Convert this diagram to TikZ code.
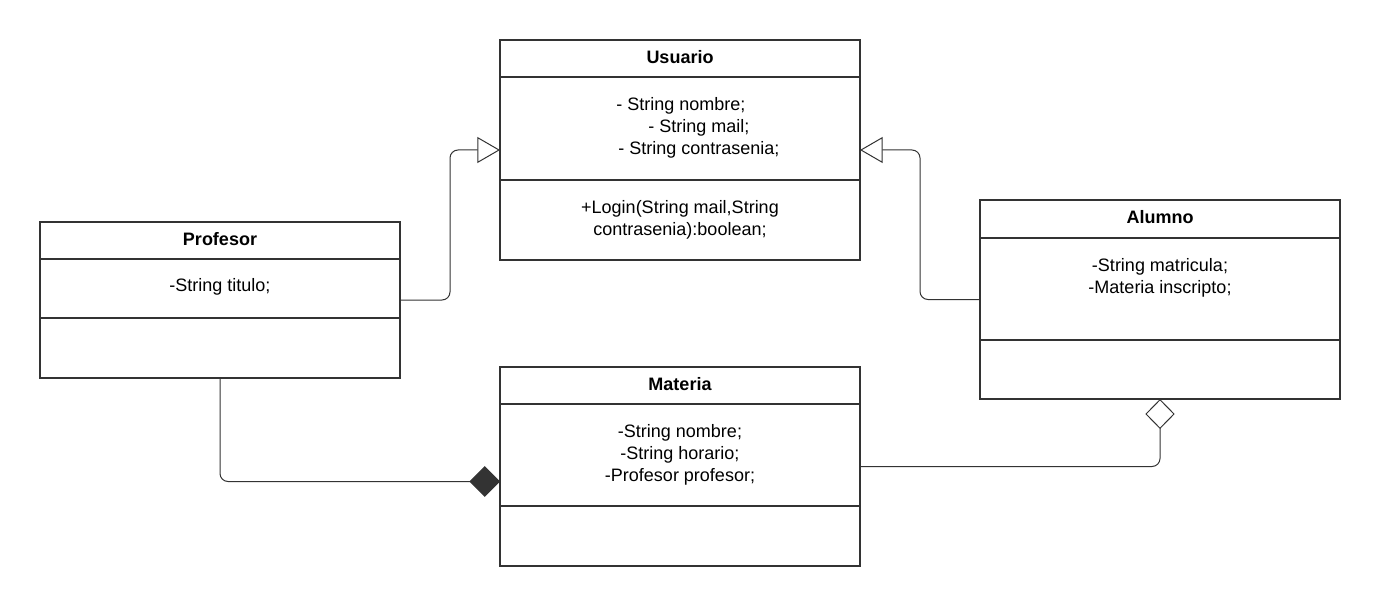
\documentclass[tikz,border=0pt]{standalone}
\usepackage{fontspec}
\setmainfont{Liberation Sans}
\usetikzlibrary{positioning,arrows.meta}
\definecolor{umlline}{HTML}{333333}
\tikzset{
    classbox/.style ={
        shape=rectangle,
        draw=umlline,
        line width=1.1pt,
        minimum width=270pt,
        outer sep=0pt,
        inner sep=0pt
    },
    headbox/.style ={
        classbox,
        minimum height=27.75pt,
        text depth=3pt,
        font=\fontsize{13.5pt}{16.5pt}\selectfont\bfseries
    },
    partbox/.style ={
        classbox
    },
    txt/.style ={
        align=center,
        inner sep=0pt,
        font=\fontsize{13.5pt}{16.5pt}\selectfont
    },
    link/.style ={
        draw=umlline,
        line width=0.75pt,
        rounded corners=6pt
    }
}

\begin{document}
\begin{tikzpicture}[x=0.75pt,y=-0.75pt]
    \useasboundingbox (0,0) rectangle (1380,606);
    \node[classbox,minimum height=165pt] (usuario) at(680,150) {};
    \node[classbox,minimum height=117pt] (profesor) at(220,300) {};
    \node[classbox,minimum height=149.25pt] (alumno) at(1160,299.5) {};
    \node[classbox,minimum height=149.25pt] (materia) at(680,466.5) {};
    \node[headbox,below=0pt of usuario.north] (usuarioH) {Usuario};
    \node[headbox,below=0pt of profesor.north] (profesorH) {Profesor};
    \node[headbox,minimum height=28.5pt,below=0pt of alumno.north] (alumnoH) {Alumno};
    \node[headbox,below=0pt of materia.north] (materiaH) {Materia};
    \node[partbox,minimum height=77.25pt,below=0pt of usuarioH] (usuarioA) {};
    \node[partbox,minimum height=44.25pt,below=0pt of profesorH] (profesorA) {};
    \node[partbox,minimum height=76.5pt,below=0pt of alumnoH] (alumnoA) {};
    \node[partbox,minimum height=76.5pt,below=0pt of materiaH] (materiaA) {};
    \node[txt,align=left,anchor=north west] (usuarioAt) at(616,97) {- String nombre;\\\hspace*{24pt}- String mail;\\\hspace*{1.5pt}- String contrasenia;};
    \node[txt,anchor=north] (usuarioMt) at(680,200) {+Login(String mail,String\\contrasenia):boolean;};
    \node[txt,anchor=north] (profesorAt) at(220,278) {-String titulo;};
    \node[txt,anchor=north] (alumnoAt) at(1160,258) {-String matricula;\\-Materia inscripto;};
    \node[txt,anchor=north] (materiaAt) at(680,424) {-String nombre;\\-String horario;\\-Profesor profesor;};
    \draw[link,-{Triangle[open,length=17pt,width=19.5pt]}] (profesor.east) -- ++(50,0) |- (usuario.west);
    \draw[link,-{Triangle[open,length=17pt,width=19.5pt]}] (alumno.west) -- ++(-60,0) |- (usuario.east);
    \draw[link,-{Diamond[length=23pt,width=23pt,fill=umlline]}] (profesor.south) |- ([yshift=-11.25pt]materia.west);
    \draw[link,-{Diamond[open,length=22.5pt,width=22pt]}] (materia.east) -| (alumno.south);
\end{tikzpicture}
\end{document}
